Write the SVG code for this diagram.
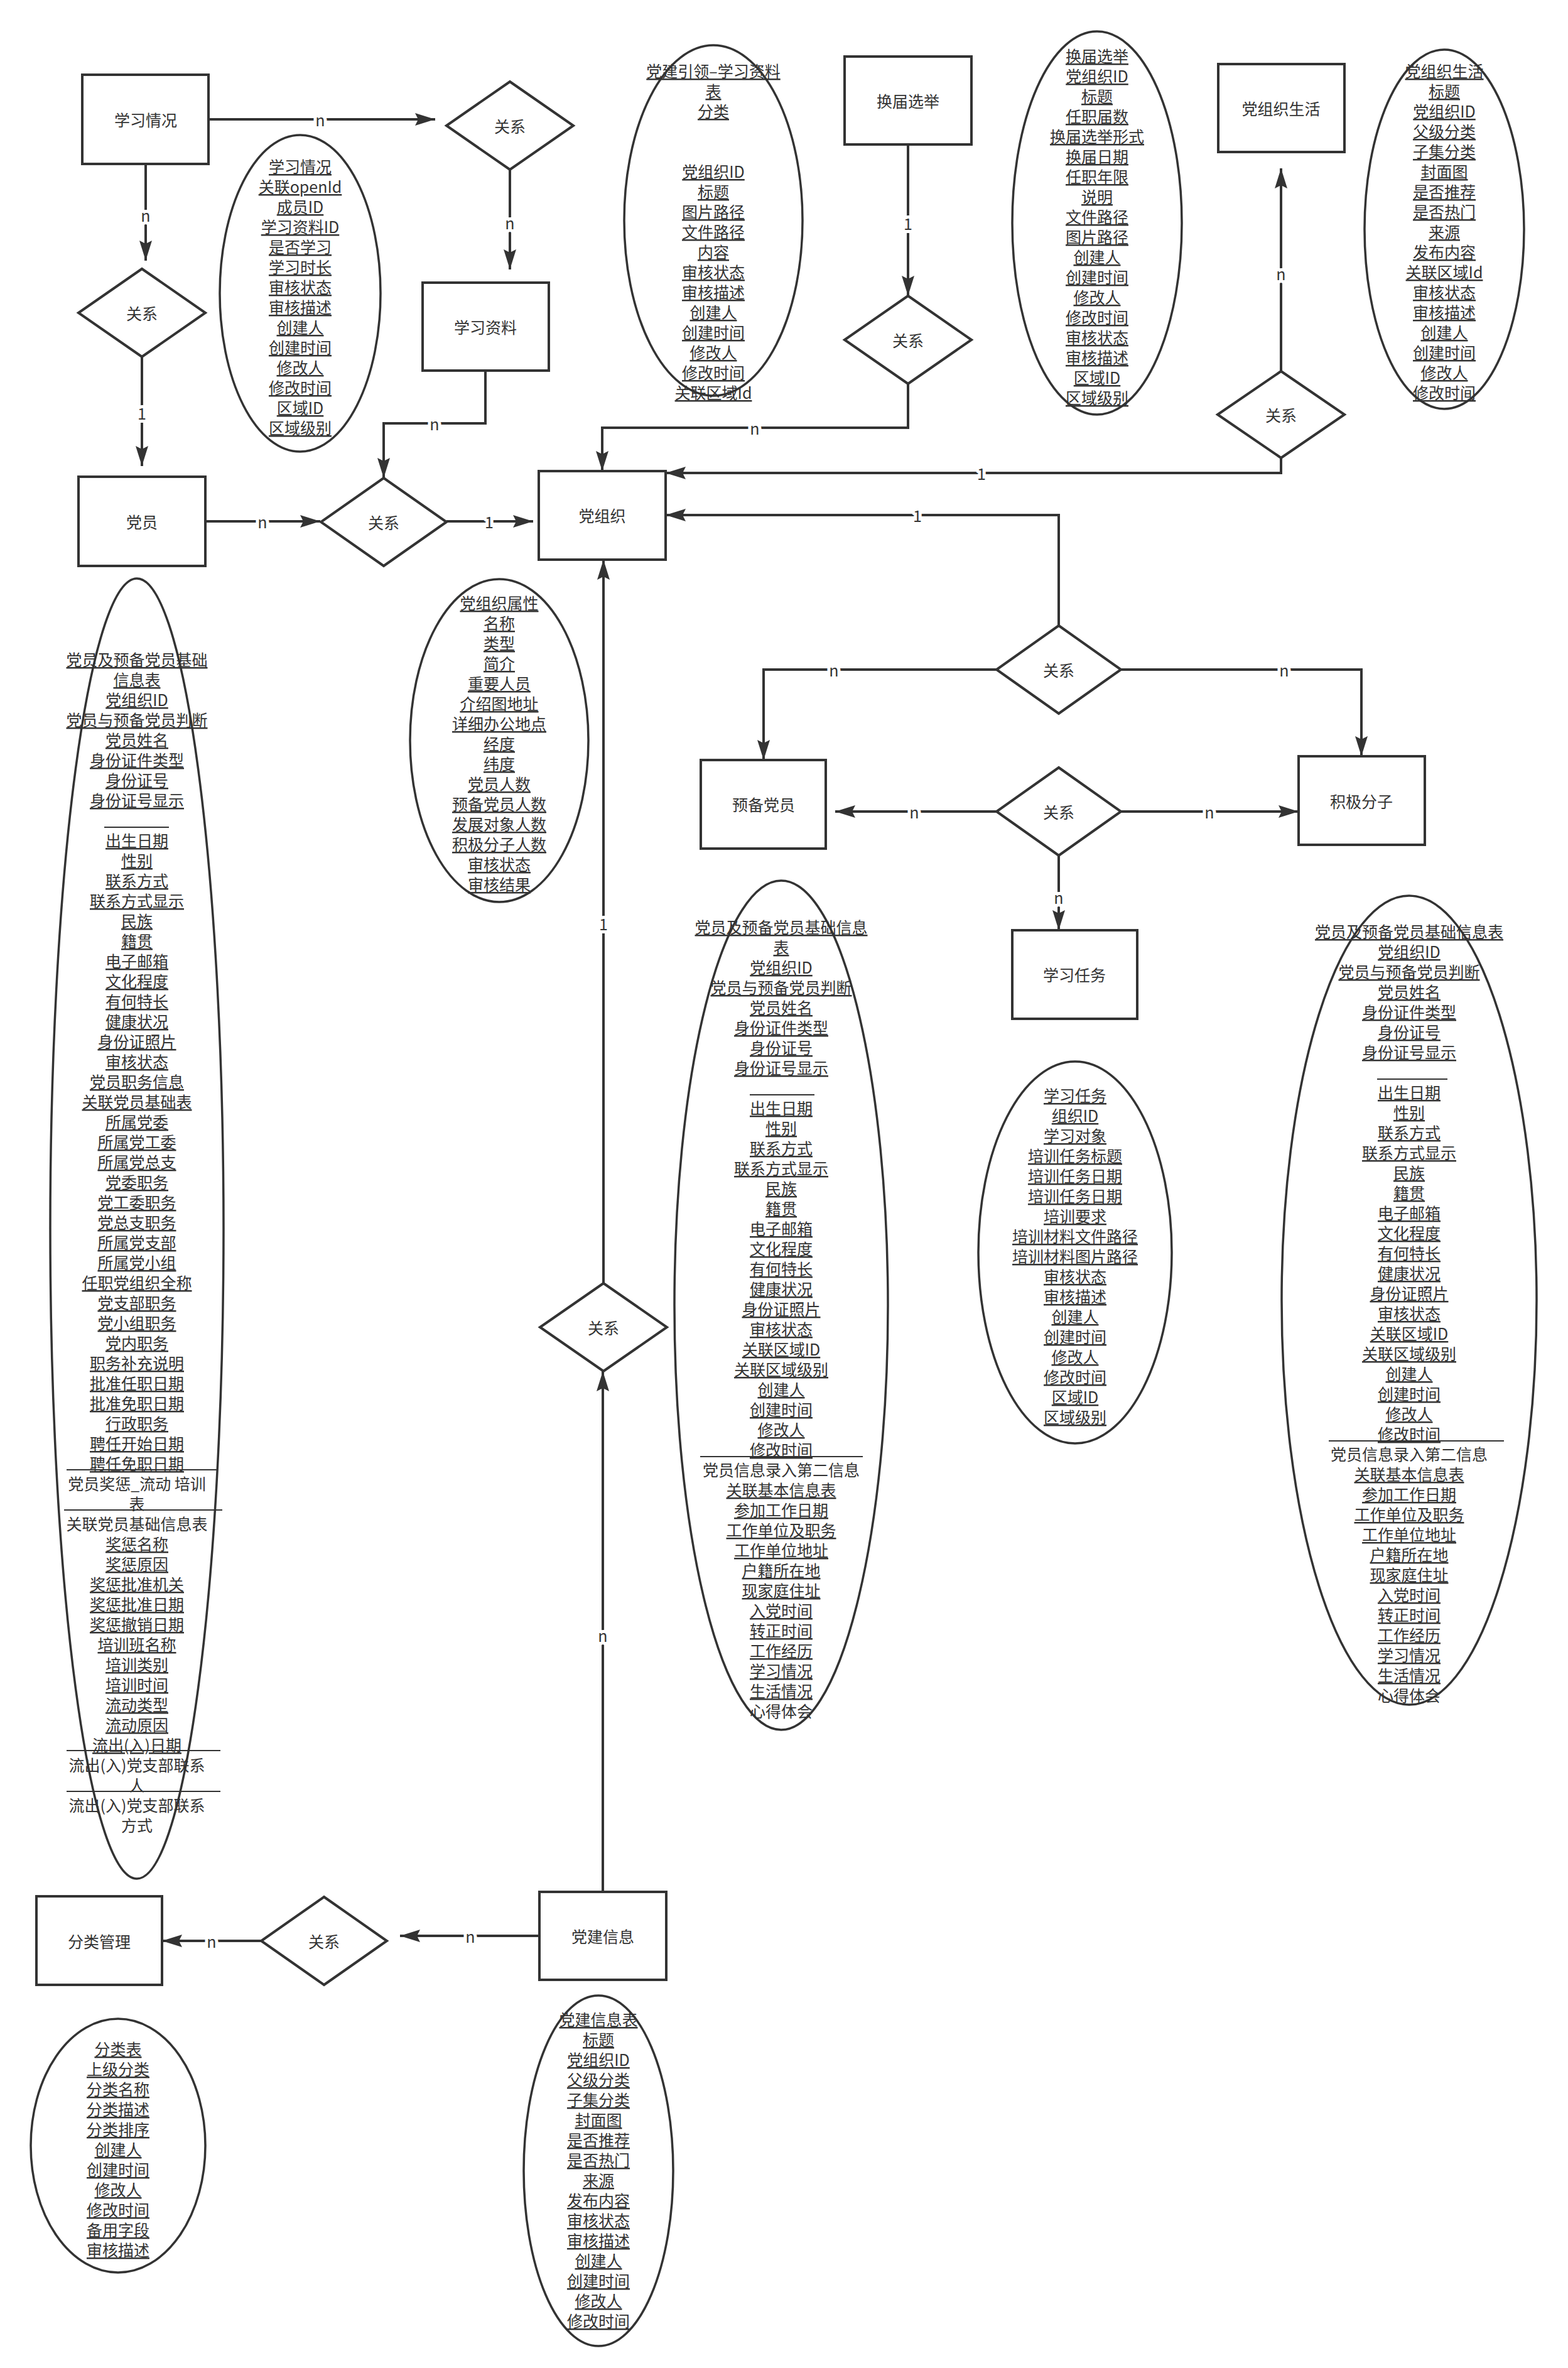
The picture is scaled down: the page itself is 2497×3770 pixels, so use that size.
<svg xmlns="http://www.w3.org/2000/svg" width="2497" height="3770" viewBox="0 0 2497 3770">
<style>
.box{fill:#fff;stroke:#333;stroke-width:4}
.dia{fill:#fff;stroke:#333;stroke-width:4}
.ell{fill:none;stroke:#333;stroke-width:3.5}
.conn{fill:none;stroke:#333;stroke-width:4}
.ul{stroke:#333;stroke-width:2}
text{font-family:"Noto Sans CJK SC","Noto Sans",sans-serif;font-size:25px;fill:#333;text-anchor:middle;dominant-baseline:central}
.u{text-decoration:underline}
.lbl{paint-order:stroke;stroke:#fff;stroke-width:10px;stroke-linejoin:round}
</style>
<defs>
<marker id="arr" markerUnits="userSpaceOnUse" markerWidth="32" markerHeight="20" refX="32" refY="10" orient="auto">
<path d="M0,0 L32,10 L0,20 L5,10 Z" fill="#333"/>
</marker>
</defs>
<rect width="2497" height="3770" fill="#fff"/>

<g id="connectors">
<path class="conn" d="M332,190 H693" marker-end="url(#arr)"/>
<path class="conn" d="M812,270 V429" marker-end="url(#arr)"/>
<path class="conn" d="M232,261 V415" marker-end="url(#arr)"/>
<path class="conn" d="M226,568 V742" marker-end="url(#arr)"/>
<path class="conn" d="M327,830 H510" marker-end="url(#arr)"/>
<path class="conn" d="M711,830 H849" marker-end="url(#arr)"/>
<path class="conn" d="M773,590 V674 H611 V761" marker-end="url(#arr)"/>
<path class="conn" d="M1446,230 V471" marker-end="url(#arr)"/>
<path class="conn" d="M1446,611 V681 H959 V750" marker-end="url(#arr)"/>
<path class="conn" d="M2040,591 V268" marker-end="url(#arr)"/>
<path class="conn" d="M2040,729 V753 H1060" marker-end="url(#arr)"/>
<path class="conn" d="M1686,996 V820 H1060" marker-end="url(#arr)"/>
<path class="conn" d="M1587,1066 H1216 V1210" marker-end="url(#arr)"/>
<path class="conn" d="M1785,1066 H2168 V1204" marker-end="url(#arr)"/>
<path class="conn" d="M1587,1292 H1330" marker-end="url(#arr)"/>
<path class="conn" d="M1785,1292 H2068" marker-end="url(#arr)"/>
<path class="conn" d="M1686,1362 V1481" marker-end="url(#arr)"/>
<path class="conn" d="M961,2043 V891" marker-end="url(#arr)"/>
<path class="conn" d="M960,3012 V2183" marker-end="url(#arr)"/>
<path class="conn" d="M859,3082 H637" marker-end="url(#arr)"/>
<path class="conn" d="M416,3090 H258" marker-end="url(#arr)"/>
<text class="lbl" x="510" y="190">n</text>
<text class="lbl" x="812" y="354">n</text>
<text class="lbl" x="232" y="342">n</text>
<text class="lbl" x="226" y="657">1</text>
<text class="lbl" x="418" y="830">n</text>
<text class="lbl" x="779" y="830">1</text>
<text class="lbl" x="692" y="674">n</text>
<text class="lbl" x="1446" y="355">1</text>
<text class="lbl" x="1202" y="681">n</text>
<text class="lbl" x="2040" y="435">n</text>
<text class="lbl" x="1563" y="753">1</text>
<text class="lbl" x="1461" y="820">1</text>
<text class="lbl" x="1328" y="1066">n</text>
<text class="lbl" x="2045" y="1066">n</text>
<text class="lbl" x="1456" y="1292">n</text>
<text class="lbl" x="1926" y="1292">n</text>
<text class="lbl" x="1686" y="1428">n</text>
<text class="lbl" x="961" y="1470">1</text>
<text class="lbl" x="960" y="2603">n</text>
<text class="lbl" x="749" y="3082">n</text>
<text class="lbl" x="337" y="3090">n</text>
</g>

<g id="node-xuexiqingkuang"><rect class="box" x="131" y="119" width="201" height="142"/><text x="232" y="190">学习情况</text></g>
<g id="node-xuexiziliao"><rect class="box" x="673" y="450" width="201" height="140"/><text x="773" y="520">学习资料</text></g>
<g id="node-dangyuan"><rect class="box" x="125" y="759" width="202" height="142"/><text x="226" y="830">党员</text></g>
<g id="node-dangzuzhi"><rect class="box" x="858" y="750" width="202" height="141"/><text x="959" y="820">党组织</text></g>
<g id="node-huanjie"><rect class="box" x="1345" y="90" width="202" height="140"/><text x="1446" y="160">换届选举</text></g>
<g id="node-shenghuo"><rect class="box" x="1940" y="102" width="201" height="140"/><text x="2040" y="172">党组织生活</text></g>
<g id="node-yubei"><rect class="box" x="1116" y="1210" width="199" height="141"/><text x="1216" y="1280">预备党员</text></g>
<g id="node-jiji"><rect class="box" x="2068" y="1204" width="201" height="141"/><text x="2168" y="1275">积极分子</text></g>
<g id="node-renwu"><rect class="box" x="1612" y="1481" width="199" height="141"/><text x="1711" y="1551">学习任务</text></g>
<g id="node-fenlei"><rect class="box" x="58" y="3019" width="200" height="141"/><text x="158" y="3090">分类管理</text></g>
<g id="node-dangjian"><rect class="box" x="859" y="3012" width="202" height="140"/><text x="960" y="3082">党建信息</text></g>

<g id="rel-top"><path class="dia" d="M812,130 L913,200 L812,270 L711,200 Z"/><text x="812" y="200">关系</text></g>
<g id="rel-left"><path class="dia" d="M226,428 L327,498 L226,568 L125,498 Z"/><text x="226" y="498">关系</text></g>
<g id="rel-mid"><path class="dia" d="M611,761 L711,831 L611,901 L511,831 Z"/><text x="611" y="831">关系</text></g>
<g id="rel-huanjie"><path class="dia" d="M1446,471 L1547,541 L1446,611 L1345,541 Z"/><text x="1446" y="541">关系</text></g>
<g id="rel-shenghuo"><path class="dia" d="M2040,591 L2141,660 L2040,729 L1939,660 Z"/><text x="2040" y="660">关系</text></g>
<g id="rel-d1"><path class="dia" d="M1686,996 L1785,1066 L1686,1136 L1587,1066 Z"/><text x="1686" y="1066">关系</text></g>
<g id="rel-d2"><path class="dia" d="M1686,1222 L1785,1292 L1686,1362 L1587,1292 Z"/><text x="1686" y="1292">关系</text></g>
<g id="rel-bottom"><path class="dia" d="M961,2043 L1062,2113 L961,2183 L860,2113 Z"/><text x="961" y="2113">关系</text></g>
<g id="rel-fenlei"><path class="dia" d="M516,3020 L616,3090 L516,3160 L416,3090 Z"/><text x="516" y="3090">关系</text></g>

<g id="attr-xuexiqingkuang">
<ellipse class="ell" cx="478" cy="467" rx="128" ry="252"/>
<text class="u" x="478" y="264">学习情况</text>
<text class="u" x="478" y="296">关联openId</text>
<text class="u" x="478" y="328">成员ID</text>
<text class="u" x="478" y="360">学习资料ID</text>
<text class="u" x="478" y="392">是否学习</text>
<text class="u" x="478" y="424">学习时长</text>
<text class="u" x="478" y="456">审核状态</text>
<text class="u" x="478" y="488">审核描述</text>
<text class="u" x="478" y="520">创建人</text>
<text class="u" x="478" y="552">创建时间</text>
<text class="u" x="478" y="584">修改人</text>
<text class="u" x="478" y="616">修改时间</text>
<text class="u" x="478" y="648">区域ID</text>
<text class="u" x="478" y="680">区域级别</text>
</g>

<g id="attr-xuexiziliao">
<ellipse class="ell" cx="1136" cy="351" rx="142" ry="279"/>
<text class="u" x="1136" y="112">党建引领–学习资料</text>
<text class="u" x="1136" y="144">表</text>
<text class="u" x="1136" y="176">分类</text>
<text class="u" x="1136" y="272">党组织ID</text>
<text class="u" x="1136" y="304">标题</text>
<text class="u" x="1136" y="336">图片路径</text>
<text class="u" x="1136" y="368">文件路径</text>
<text class="u" x="1136" y="400">内容</text>
<text class="u" x="1136" y="432">审核状态</text>
<text class="u" x="1136" y="464">审核描述</text>
<text class="u" x="1136" y="496">创建人</text>
<text class="u" x="1136" y="528">创建时间</text>
<text class="u" x="1136" y="560">修改人</text>
<text class="u" x="1136" y="592">修改时间</text>
<text class="u" x="1136" y="624">关联区域Id</text>
</g>

<g id="attr-huanjie">
<ellipse class="ell" cx="1747" cy="355" rx="135" ry="305"/>
<text class="u" x="1747" y="88">换届选举</text>
<text class="u" x="1747" y="120">党组织ID</text>
<text class="u" x="1747" y="152">标题</text>
<text class="u" x="1747" y="184">任职届数</text>
<text class="u" x="1747" y="216">换届选举形式</text>
<text class="u" x="1747" y="248">换届日期</text>
<text class="u" x="1747" y="280">任职年限</text>
<text class="u" x="1747" y="312">说明</text>
<text class="u" x="1747" y="344">文件路径</text>
<text class="u" x="1747" y="376">图片路径</text>
<text class="u" x="1747" y="408">创建人</text>
<text class="u" x="1747" y="440">创建时间</text>
<text class="u" x="1747" y="472">修改人</text>
<text class="u" x="1747" y="504">修改时间</text>
<text class="u" x="1747" y="536">审核状态</text>
<text class="u" x="1747" y="568">审核描述</text>
<text class="u" x="1747" y="600">区域ID</text>
<text class="u" x="1747" y="632">区域级别</text>
</g>

<g id="attr-shenghuo">
<ellipse class="ell" cx="2300" cy="365" rx="127" ry="286"/>
<text class="u" x="2300" y="112">党组织生活</text>
<text class="u" x="2300" y="144">标题</text>
<text class="u" x="2300" y="176">党组织ID</text>
<text class="u" x="2300" y="208">父级分类</text>
<text class="u" x="2300" y="240">子集分类</text>
<text class="u" x="2300" y="272">封面图</text>
<text class="u" x="2300" y="304">是否推荐</text>
<text class="u" x="2300" y="336">是否热门</text>
<text class="u" x="2300" y="368">来源</text>
<text class="u" x="2300" y="400">发布内容</text>
<text class="u" x="2300" y="432">关联区域Id</text>
<text class="u" x="2300" y="464">审核状态</text>
<text class="u" x="2300" y="496">审核描述</text>
<text class="u" x="2300" y="528">创建人</text>
<text class="u" x="2300" y="560">创建时间</text>
<text class="u" x="2300" y="592">修改人</text>
<text class="u" x="2300" y="624">修改时间</text>
</g>

<g id="attr-dangyuan">
<ellipse class="ell" cx="218" cy="1956" rx="138" ry="1035"/>
<line class="ul" x1="166" y1="1317" x2="269" y2="1317"/>
<line class="ul" x1="106" y1="2340" x2="347" y2="2340"/>
<line class="ul" x1="102" y1="2404" x2="354" y2="2404"/>
<line class="ul" x1="106" y1="2787" x2="351" y2="2787"/>
<line class="ul" x1="106" y1="2852" x2="351" y2="2852"/>
<text class="u" x="218" y="1049">党员及预备党员基础</text>
<text class="u" x="218" y="1081">信息表</text>
<text class="u" x="218" y="1113">党组织ID</text>
<text class="u" x="218" y="1145">党员与预备党员判断</text>
<text class="u" x="218" y="1177">党员姓名</text>
<text class="u" x="218" y="1209">身份证件类型</text>
<text class="u" x="218" y="1241">身份证号</text>
<text class="u" x="218" y="1273">身份证号显示</text>
<text class="u" x="218" y="1337">出生日期</text>
<text class="u" x="218" y="1369">性别</text>
<text class="u" x="218" y="1401">联系方式</text>
<text class="u" x="218" y="1433">联系方式显示</text>
<text class="u" x="218" y="1465">民族</text>
<text class="u" x="218" y="1497">籍贯</text>
<text class="u" x="218" y="1529">电子邮箱</text>
<text class="u" x="218" y="1561">文化程度</text>
<text class="u" x="218" y="1593">有何特长</text>
<text class="u" x="218" y="1625">健康状况</text>
<text class="u" x="218" y="1657">身份证照片</text>
<text class="u" x="218" y="1689">审核状态</text>
<text class="u" x="218" y="1721">党员职务信息</text>
<text class="u" x="218" y="1753">关联党员基础表</text>
<text class="u" x="218" y="1785">所属党委</text>
<text class="u" x="218" y="1817">所属党工委</text>
<text class="u" x="218" y="1849">所属党总支</text>
<text class="u" x="218" y="1881">党委职务</text>
<text class="u" x="218" y="1913">党工委职务</text>
<text class="u" x="218" y="1945">党总支职务</text>
<text class="u" x="218" y="1977">所属党支部</text>
<text class="u" x="218" y="2009">所属党小组</text>
<text class="u" x="218" y="2041">任职党组织全称</text>
<text class="u" x="218" y="2073">党支部职务</text>
<text class="u" x="218" y="2105">党小组职务</text>
<text class="u" x="218" y="2137">党内职务</text>
<text class="u" x="218" y="2169">职务补充说明</text>
<text class="u" x="218" y="2201">批准任职日期</text>
<text class="u" x="218" y="2233">批准免职日期</text>
<text class="u" x="218" y="2265">行政职务</text>
<text class="u" x="218" y="2297">聘任开始日期</text>
<text class="u" x="218" y="2329">聘任免职日期</text>
<text x="218" y="2361">党员奖惩_流动 培训</text>
<text x="218" y="2393">表</text>
<text x="218" y="2425">关联党员基础信息表</text>
<text class="u" x="218" y="2457">奖惩名称</text>
<text class="u" x="218" y="2489">奖惩原因</text>
<text class="u" x="218" y="2521">奖惩批准机关</text>
<text class="u" x="218" y="2553">奖惩批准日期</text>
<text class="u" x="218" y="2585">奖惩撤销日期</text>
<text class="u" x="218" y="2617">培训班名称</text>
<text class="u" x="218" y="2649">培训类别</text>
<text class="u" x="218" y="2681">培训时间</text>
<text class="u" x="218" y="2713">流动类型</text>
<text class="u" x="218" y="2745">流动原因</text>
<text class="u" x="218" y="2777">流出(入)日期</text>
<text x="218" y="2809">流出(入)党支部联系</text>
<text x="218" y="2841">人</text>
<text x="218" y="2873">流出(入)党支部联系</text>
<text x="218" y="2905">方式</text>
</g>

<g id="attr-dangzuzhi">
<ellipse class="ell" cx="795" cy="1179" rx="142" ry="257"/>
<text class="u" x="795" y="959">党组织属性</text>
<text class="u" x="795" y="991">名称</text>
<text class="u" x="795" y="1023">类型</text>
<text class="u" x="795" y="1055">简介</text>
<text class="u" x="795" y="1087">重要人员</text>
<text class="u" x="795" y="1119">介绍图地址</text>
<text class="u" x="795" y="1151">详细办公地点</text>
<text class="u" x="795" y="1183">经度</text>
<text class="u" x="795" y="1215">纬度</text>
<text class="u" x="795" y="1247">党员人数</text>
<text class="u" x="795" y="1279">预备党员人数</text>
<text class="u" x="795" y="1311">发展对象人数</text>
<text class="u" x="795" y="1343">积极分子人数</text>
<text class="u" x="795" y="1375">审核状态</text>
<text class="u" x="795" y="1407">审核结果</text>
</g>

<g id="attr-yubei">
<ellipse class="ell" cx="1244" cy="2078" rx="170" ry="676"/>
<line class="ul" x1="1194" y1="1743" x2="1297" y2="1743"/>
<line class="ul" x1="1115" y1="2319" x2="1374" y2="2319"/>
<text class="u" x="1244" y="1475">党员及预备党员基础信息</text>
<text class="u" x="1244" y="1507">表</text>
<text class="u" x="1244" y="1539">党组织ID</text>
<text class="u" x="1244" y="1571">党员与预备党员判断</text>
<text class="u" x="1244" y="1603">党员姓名</text>
<text class="u" x="1244" y="1635">身份证件类型</text>
<text class="u" x="1244" y="1667">身份证号</text>
<text class="u" x="1244" y="1699">身份证号显示</text>
<text class="u" x="1244" y="1763">出生日期</text>
<text class="u" x="1244" y="1795">性别</text>
<text class="u" x="1244" y="1827">联系方式</text>
<text class="u" x="1244" y="1859">联系方式显示</text>
<text class="u" x="1244" y="1891">民族</text>
<text class="u" x="1244" y="1923">籍贯</text>
<text class="u" x="1244" y="1955">电子邮箱</text>
<text class="u" x="1244" y="1987">文化程度</text>
<text class="u" x="1244" y="2019">有何特长</text>
<text class="u" x="1244" y="2051">健康状况</text>
<text class="u" x="1244" y="2083">身份证照片</text>
<text class="u" x="1244" y="2115">审核状态</text>
<text class="u" x="1244" y="2147">关联区域ID</text>
<text class="u" x="1244" y="2179">关联区域级别</text>
<text class="u" x="1244" y="2211">创建人</text>
<text class="u" x="1244" y="2243">创建时间</text>
<text class="u" x="1244" y="2275">修改人</text>
<text class="u" x="1244" y="2307">修改时间</text>
<text x="1244" y="2339">党员信息录入第二信息</text>
<text class="u" x="1244" y="2371">关联基本信息表</text>
<text class="u" x="1244" y="2403">参加工作日期</text>
<text class="u" x="1244" y="2435">工作单位及职务</text>
<text class="u" x="1244" y="2467">工作单位地址</text>
<text class="u" x="1244" y="2499">户籍所在地</text>
<text class="u" x="1244" y="2531">现家庭住址</text>
<text class="u" x="1244" y="2563">入党时间</text>
<text class="u" x="1244" y="2595">转正时间</text>
<text class="u" x="1244" y="2627">工作经历</text>
<text class="u" x="1244" y="2659">学习情况</text>
<text class="u" x="1244" y="2691">生活情况</text>
<text x="1244" y="2723">心得体会</text>
</g>

<g id="attr-renwu">
<ellipse class="ell" cx="1712" cy="1994" rx="154" ry="304"/>
<text class="u" x="1712" y="1743">学习任务</text>
<text class="u" x="1712" y="1775">组织ID</text>
<text class="u" x="1712" y="1807">学习对象</text>
<text class="u" x="1712" y="1839">培训任务标题</text>
<text class="u" x="1712" y="1871">培训任务日期</text>
<text class="u" x="1712" y="1903">培训任务日期</text>
<text class="u" x="1712" y="1935">培训要求</text>
<text class="u" x="1712" y="1967">培训材料文件路径</text>
<text class="u" x="1712" y="1999">培训材料图片路径</text>
<text class="u" x="1712" y="2031">审核状态</text>
<text class="u" x="1712" y="2063">审核描述</text>
<text class="u" x="1712" y="2095">创建人</text>
<text class="u" x="1712" y="2127">创建时间</text>
<text class="u" x="1712" y="2159">修改人</text>
<text class="u" x="1712" y="2191">修改时间</text>
<text class="u" x="1712" y="2223">区域ID</text>
<text class="u" x="1712" y="2255">区域级别</text>
</g>

<g id="attr-jiji">
<ellipse class="ell" cx="2244" cy="2070" rx="203" ry="644"/>
<line class="ul" x1="2193" y1="1718" x2="2305" y2="1718"/>
<line class="ul" x1="2116" y1="2294" x2="2395" y2="2294"/>
<text class="u" x="2244" y="1482">党员及预备党员基础信息表</text>
<text class="u" x="2244" y="1514">党组织ID</text>
<text class="u" x="2244" y="1546">党员与预备党员判断</text>
<text class="u" x="2244" y="1578">党员姓名</text>
<text class="u" x="2244" y="1610">身份证件类型</text>
<text class="u" x="2244" y="1642">身份证号</text>
<text class="u" x="2244" y="1674">身份证号显示</text>
<text class="u" x="2244" y="1738">出生日期</text>
<text class="u" x="2244" y="1770">性别</text>
<text class="u" x="2244" y="1802">联系方式</text>
<text class="u" x="2244" y="1834">联系方式显示</text>
<text class="u" x="2244" y="1866">民族</text>
<text class="u" x="2244" y="1898">籍贯</text>
<text class="u" x="2244" y="1930">电子邮箱</text>
<text class="u" x="2244" y="1962">文化程度</text>
<text class="u" x="2244" y="1994">有何特长</text>
<text class="u" x="2244" y="2026">健康状况</text>
<text class="u" x="2244" y="2058">身份证照片</text>
<text class="u" x="2244" y="2090">审核状态</text>
<text class="u" x="2244" y="2122">关联区域ID</text>
<text class="u" x="2244" y="2154">关联区域级别</text>
<text class="u" x="2244" y="2186">创建人</text>
<text class="u" x="2244" y="2218">创建时间</text>
<text class="u" x="2244" y="2250">修改人</text>
<text class="u" x="2244" y="2282">修改时间</text>
<text x="2244" y="2314">党员信息录入第二信息</text>
<text class="u" x="2244" y="2346">关联基本信息表</text>
<text class="u" x="2244" y="2378">参加工作日期</text>
<text class="u" x="2244" y="2410">工作单位及职务</text>
<text class="u" x="2244" y="2442">工作单位地址</text>
<text class="u" x="2244" y="2474">户籍所在地</text>
<text class="u" x="2244" y="2506">现家庭住址</text>
<text class="u" x="2244" y="2538">入党时间</text>
<text class="u" x="2244" y="2570">转正时间</text>
<text class="u" x="2244" y="2602">工作经历</text>
<text class="u" x="2244" y="2634">学习情况</text>
<text class="u" x="2244" y="2666">生活情况</text>
<text x="2244" y="2698">心得体会</text>
</g>

<g id="attr-fenlei">
<ellipse class="ell" cx="188" cy="3416" rx="139" ry="202"/>
<text class="u" x="188" y="3261">分类表</text>
<text class="u" x="188" y="3293">上级分类</text>
<text class="u" x="188" y="3325">分类名称</text>
<text class="u" x="188" y="3357">分类描述</text>
<text class="u" x="188" y="3389">分类排序</text>
<text class="u" x="188" y="3421">创建人</text>
<text class="u" x="188" y="3453">创建时间</text>
<text class="u" x="188" y="3485">修改人</text>
<text class="u" x="188" y="3517">修改时间</text>
<text class="u" x="188" y="3549">备用字段</text>
<text class="u" x="188" y="3581">审核描述</text>
</g>

<g id="attr-dangjian">
<ellipse class="ell" cx="953" cy="3456" rx="119" ry="279"/>
<text class="u" x="953" y="3214">党建信息表</text>
<text class="u" x="953" y="3246">标题</text>
<text class="u" x="953" y="3278">党组织ID</text>
<text class="u" x="953" y="3310">父级分类</text>
<text class="u" x="953" y="3342">子集分类</text>
<text class="u" x="953" y="3374">封面图</text>
<text class="u" x="953" y="3406">是否推荐</text>
<text class="u" x="953" y="3438">是否热门</text>
<text class="u" x="953" y="3470">来源</text>
<text class="u" x="953" y="3502">发布内容</text>
<text class="u" x="953" y="3534">审核状态</text>
<text class="u" x="953" y="3566">审核描述</text>
<text class="u" x="953" y="3598">创建人</text>
<text class="u" x="953" y="3630">创建时间</text>
<text class="u" x="953" y="3662">修改人</text>
<text class="u" x="953" y="3694">修改时间</text>
</g>
</svg>
